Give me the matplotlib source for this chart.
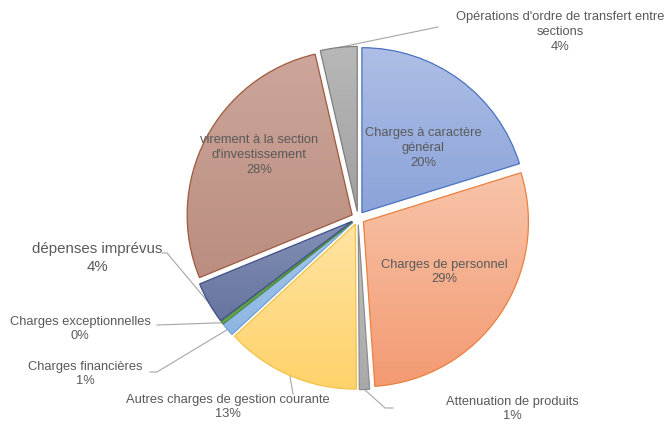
import numpy as np
import matplotlib
matplotlib.use("Agg")
import matplotlib.pyplot as plt
from matplotlib.colors import to_rgb

# Données (sens horaire depuis le haut)
labels = ["Charges à caractère\ngénéral", "Charges de personnel", "Attenuation de produits",
          "Autres charges de gestion courante", "Charges financières", "Charges exceptionnelles",
          "dépenses imprévus", "virement à la section\nd'investissement",
          "Opérations d'ordre de transfert entre\nsections"]
values = [20.2, 28.7, 1.0, 13.2, 1.3, 0.3, 4.1, 27.6, 3.6]

# dégradé vertical: haut clair -> bas foncé
top = ["#AEBEE6", "#F8C4A9", "#C2C2C2", "#FFE4A3", "#A6C8EC", "#79B85C", "#8290B6", "#CDA59A", "#B8B8B8"]
bottom = ["#8AA3D9", "#F39A72", "#A8A8A8", "#FFD26A", "#8DB6E2", "#66A84C", "#66749F", "#BA8E80", "#A0A0A0"]
edges = ["#4A72C0", "#E9803F", "#8C8C8C", "#F2C24A", "#6FA0D0", "#4E8A3A", "#3F5087", "#9E5A3E", "#7F7F7F"]

W, H = 669, 424
CX, CY, R = 358, 218, 165   # centre / rayon en pixels

def px(x, y):
    # pixel -> coordonnées données
    return (x - CX) / R, (CY - y) / R

fig = plt.figure(figsize=(W / 100, H / 100), dpi=100)
ax = fig.add_axes([0, 0, 1, 1])
plt.rcParams['font.family'] = ['Liberation Sans', 'DejaVu Sans']

wedges, _ = ax.pie(values, startangle=90, counterclock=False, explode=[0.04] * len(values),
                   wedgeprops=dict(linewidth=0.9), radius=1)

n = 300
g = np.linspace(-1.1, 1.1, n)
X, Y = np.meshgrid(g, g)
for w, ct, cb, ce in zip(wedges, top, bottom, edges):
    v = w.get_path().vertices
    y_lo, y_hi = v[:, 1].min(), v[:, 1].max()
    t = np.clip((y_hi - Y) / max(y_hi - y_lo, 1e-6), 0, 1)[..., None]
    img = np.array(to_rgb(ct)) * (1 - t) + np.array(to_rgb(cb)) * t
    im = ax.imshow(img, extent=(-1.1, 1.1, -1.1, 1.1), origin="lower", zorder=1, interpolation="bilinear")
    im.set_clip_path(w)
    w.set_facecolor("none")
    w.set_edgecolor(ce)
    w.set_zorder(2)

pcts = [f"{v:.0f}%" for v in values]
txt = "#595959"

# étiquettes internes
inside = {0: (423, 148), 1: (444, 272), 7: (259, 155)}
for i, (x, y) in inside.items():
    ax.text(*px(x, y), labels[i] + "\n" + pcts[i], ha="center", va="center",
            fontsize=9.3, color=txt, linespacing=1.3, zorder=3)

# étiquettes externes: (centre du texte, points de la ligne de rappel)
outside = {
    8: ((560, 32), [(438, 27)]),
    2: ((512, 409), [(385, 408), (393, 408)]),
    3: ((228, 407), [(293, 394)]),
    4: ((85, 374), [(157, 372), (150, 372)]),
    5: ((80, 329), [(157, 325)]),
    6: ((97, 258), [(167, 253), (162, 253)]),
}
for i, ((lx, ly), pts) in outside.items():
    w = wedges[i]
    a = np.deg2rad((w.theta1 + w.theta2) / 2)
    sx = w.center[0] + w.r * np.cos(a)
    sy = w.center[1] + w.r * np.sin(a)
    xs = [sx] + [px(*p)[0] for p in pts]
    ys = [sy] + [px(*p)[1] for p in pts]
    ax.plot(xs, ys, color="#A6A6A6", lw=0.8, zorder=0)
    fs = 10.8 if i == 6 else 9.3
    ax.text(*px(lx, ly), labels[i] + "\n" + pcts[i], ha="center", va="center",
            fontsize=fs, color=txt, linespacing=1.3, zorder=3)

x0, y0 = px(0, H)
x1, y1 = px(W, 0)
ax.set_xlim(x0, x1)
ax.set_ylim(y0, y1)
ax.set_aspect("equal")
ax.axis("off")

fig.savefig("out.png", dpi=100, facecolor="white")
